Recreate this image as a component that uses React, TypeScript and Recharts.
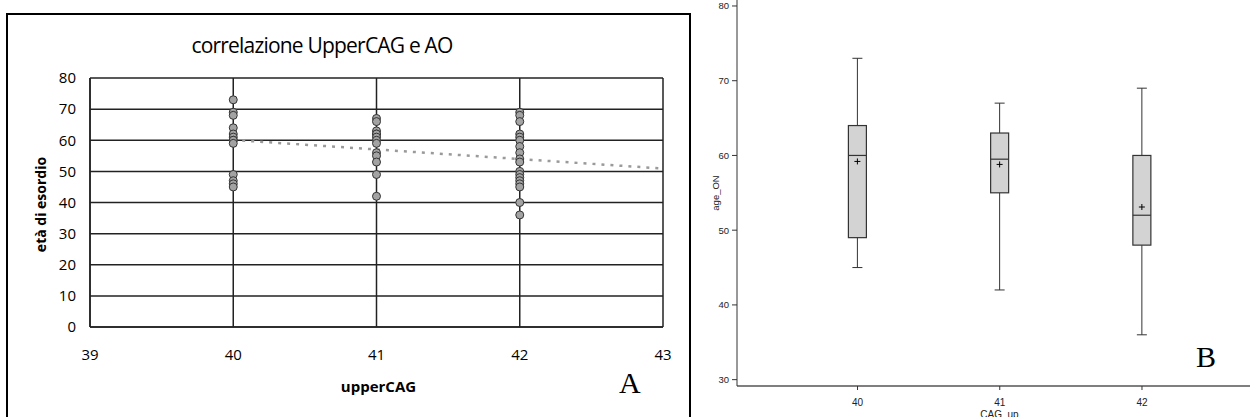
import React from 'react';
import {
  ScatterChart,
  Scatter,
  BarChart,
  Bar,
  XAxis,
  YAxis,
  CartesianGrid,
  Label,
} from 'recharts';

// ---------- Panel A data ----------
const xTicksA = [39, 40, 41, 42, 43];
const yTicksA = [0, 10, 20, 30, 40, 50, 60, 70, 80];
const ages40 = [73, 69, 68, 64, 62, 61, 60, 60, 59, 49, 47, 46, 45];
const ages41 = [67, 66, 63, 62, 62, 61, 60, 59, 56, 55, 53, 49, 42];
const ages42 = [69, 68, 66, 62, 61, 60, 58, 56, 54, 53, 50, 49, 48, 47, 46, 45, 40, 36];
const trendX = [40, 43];
const trendY = [60.1, 50.9];

// ---------- Panel B data ----------
const boxCats = ['40', '41', '42'];
const boxMin = [45, 42, 36];
const boxQ1 = [49, 55, 48];
const boxMed = [60, 59.5, 52];
const boxQ3 = [64, 63, 60];
const boxMax = [73, 67, 69];
const boxMean = [59.2, 58.8, 53.1];
const yTicksB = [30, 40, 50, 60, 70, 80];

const scatterData = [
  ...ages40.map((y) => ({ x: 40, y })),
  ...ages41.map((y) => ({ x: 41, y })),
  ...ages42.map((y) => ({ x: 42, y })),
];
const trendData = trendX.map((x, i) => ({ x, y: trendY[i] }));
const boxData = boxCats.map((cat, i) => ({
  cat,
  min: boxMin[i],
  q1: boxQ1[i],
  med: boxMed[i],
  q3: boxQ3[i],
  max: boxMax[i],
  mean: boxMean[i],
}));

const sansA = '"Open Sans", "Liberation Sans", sans-serif';
const sansB = '"Liberation Sans", Arial, sans-serif';
const serif = '"Liberation Serif", "DejaVu Serif", serif';

const Dot = (props: any) => {
  const { cx, cy } = props;
  if (cx == null || cy == null) return <g />;
  return <circle cx={cx} cy={cy} r={4} fill="#a3a3a3" stroke="#333" strokeWidth={1} />;
};

const NoShape = () => <g />;

const BoxShape = (props: any) => {
  const { x, y, width, height, payload } = props;
  if (x == null || y == null || !payload) return <g />;
  const top = Math.min(y, y + height);
  const bot = Math.max(y, y + height);
  const span = payload.max - payload.min;
  const py = (v: number) => top + ((payload.max - v) / span) * (bot - top);
  const cx = x + width / 2;
  const hw = width / 2;
  const cap = 5;
  const c = '#333';
  return (
    <g>
      <line x1={cx} x2={cx} y1={py(payload.max)} y2={py(payload.q3)} stroke={c} strokeWidth={1} />
      <line x1={cx} x2={cx} y1={py(payload.q1)} y2={py(payload.min)} stroke={c} strokeWidth={1} />
      <line x1={cx - cap} x2={cx + cap} y1={py(payload.max)} y2={py(payload.max)} stroke={c} strokeWidth={1} />
      <line x1={cx - cap} x2={cx + cap} y1={py(payload.min)} y2={py(payload.min)} stroke={c} strokeWidth={1} />
      <rect
        x={cx - hw}
        y={py(payload.q3)}
        width={width}
        height={py(payload.q1) - py(payload.q3)}
        fill="#d3d3d3"
        stroke={c}
        strokeWidth={1.2}
      />
      <line x1={cx - hw} x2={cx + hw} y1={py(payload.med)} y2={py(payload.med)} stroke={c} strokeWidth={1.2} />
      <line x1={cx - 3} x2={cx + 3} y1={py(payload.mean)} y2={py(payload.mean)} stroke="#000" strokeWidth={1} />
      <line x1={cx} x2={cx} y1={py(payload.mean) - 3} y2={py(payload.mean) + 3} stroke="#000" strokeWidth={1} />
    </g>
  );
};

export default function App() {
  return (
    <div
      style={{
        position: 'absolute',
        left: 0,
        top: 0,
        width: 1250,
        height: 417,
        overflow: 'hidden',
        background: '#fff',
      }}
    >
      {/* Panel A frame */}
      <div
        style={{
          position: 'absolute',
          left: 6,
          top: 13,
          width: 681,
          height: 420,
          border: '2px solid #000',
        }}
      />
      <div
        style={{
          position: 'absolute',
          left: 7,
          top: 34,
          width: 630,
          textAlign: 'center',
          fontFamily: sansA,
          fontSize: 21,
          letterSpacing: '-0.8px',
          lineHeight: '22px',
          color: '#000',
        }}
      >
        correlazione UpperCAG e AO
      </div>
      <div style={{ position: 'absolute', left: 0, top: 0 }}>
        <ScatterChart width={700} height={417} margin={{ top: 78, right: 37, bottom: 50, left: 0 }}>
          <CartesianGrid stroke="#222" strokeWidth={1.5} />
          <XAxis
            type="number"
            dataKey="x"
            domain={[39, 43]}
            ticks={xTicksA}
            allowDataOverflow
            height={40}
            tickLine={false}
            tickSize={0}
            tickMargin={22}
            axisLine={{ stroke: '#222', strokeWidth: 1.5 }}
            tick={{ fontSize: 15, fill: '#000', fontFamily: sansA }}
          >
            <Label
              value="upperCAG"
              position="insideBottom"
              offset={-25}
              dx={2}
              style={{ fontSize: 15, fontWeight: 700, fill: '#000', fontFamily: sansA }}
            />
          </XAxis>
          <YAxis
            type="number"
            dataKey="y"
            domain={[0, 80]}
            ticks={yTicksA}
            allowDataOverflow
            width={90}
            tickLine={false}
            tickSize={0}
            tickMargin={14}
            axisLine={{ stroke: '#222', strokeWidth: 1.5 }}
            tick={{ fontSize: 15, fill: '#000', fontFamily: sansA }}
          >
            <Label
              value="età di esordio"
              position="center"
              angle={-90}
              dx={-4}
              dy={2}
              style={{ fontSize: 14, fontWeight: 700, fill: '#000', fontFamily: sansA, textAnchor: 'middle' }}
            />
          </YAxis>
          <Scatter
            data={trendData}
            line={{ stroke: '#9a9a9a', strokeWidth: 2.5, strokeDasharray: '3 6' }}
            lineType="joint"
            shape={NoShape}
            isAnimationActive={false}
          />
          <Scatter data={scatterData} shape={Dot} isAnimationActive={false} />
        </ScatterChart>
      </div>
      <div
        style={{
          position: 'absolute',
          left: 619,
          top: 368,
          fontFamily: serif,
          fontSize: 30,
          lineHeight: '30px',
          color: '#000',
        }}
      >
        A
      </div>

      {/* Panel B */}
      <div style={{ position: 'absolute', left: 700, top: 0 }}>
        <BarChart width={550} height={417} data={boxData} margin={{ top: 0, right: 0, bottom: 0, left: 0 }}>
          <XAxis
            dataKey="cat"
            height={31}
            padding={{ left: 49.4, right: 36.9 }}
            interval={0}
            tickSize={4}
            tickMargin={9}
            axisLine={{ stroke: '#555', strokeWidth: 1.3 }}
            tickLine={{ stroke: '#333' }}
            tick={{ fontSize: 10, fill: '#222', fontFamily: sansB }}
          >
            <Label
              value="CAG_up"
              position="insideBottom"
              offset={-1}
              dx={6}
              style={{ fontSize: 10, fill: '#222', fontFamily: sansB }}
            />
          </XAxis>
          <YAxis
            type="number"
            domain={[29.15, 80.8]}
            ticks={yTicksB}
            allowDataOverflow
            width={37}
            tickSize={5}
            tickMargin={3}
            axisLine={{ stroke: '#333', strokeWidth: 1 }}
            tickLine={{ stroke: '#333' }}
            tick={{ fontSize: 9.5, fill: '#222', fontFamily: sansB }}
          >
            <Label
              value="age_ON"
              position="center"
              angle={-90}
              dx={-2.5}
              style={{ fontSize: 9.5, fill: '#222', fontFamily: sansB, textAnchor: 'middle' }}
            />
          </YAxis>
          <Bar
            dataKey={(d: any) => [d.min, d.max]}
            barSize={18}
            shape={BoxShape}
            isAnimationActive={false}
          />
        </BarChart>
      </div>
      <div
        style={{
          position: 'absolute',
          left: 1196,
          top: 342,
          fontFamily: serif,
          fontSize: 30,
          lineHeight: '30px',
          color: '#000',
        }}
      >
        B
      </div>
    </div>
  );
}
